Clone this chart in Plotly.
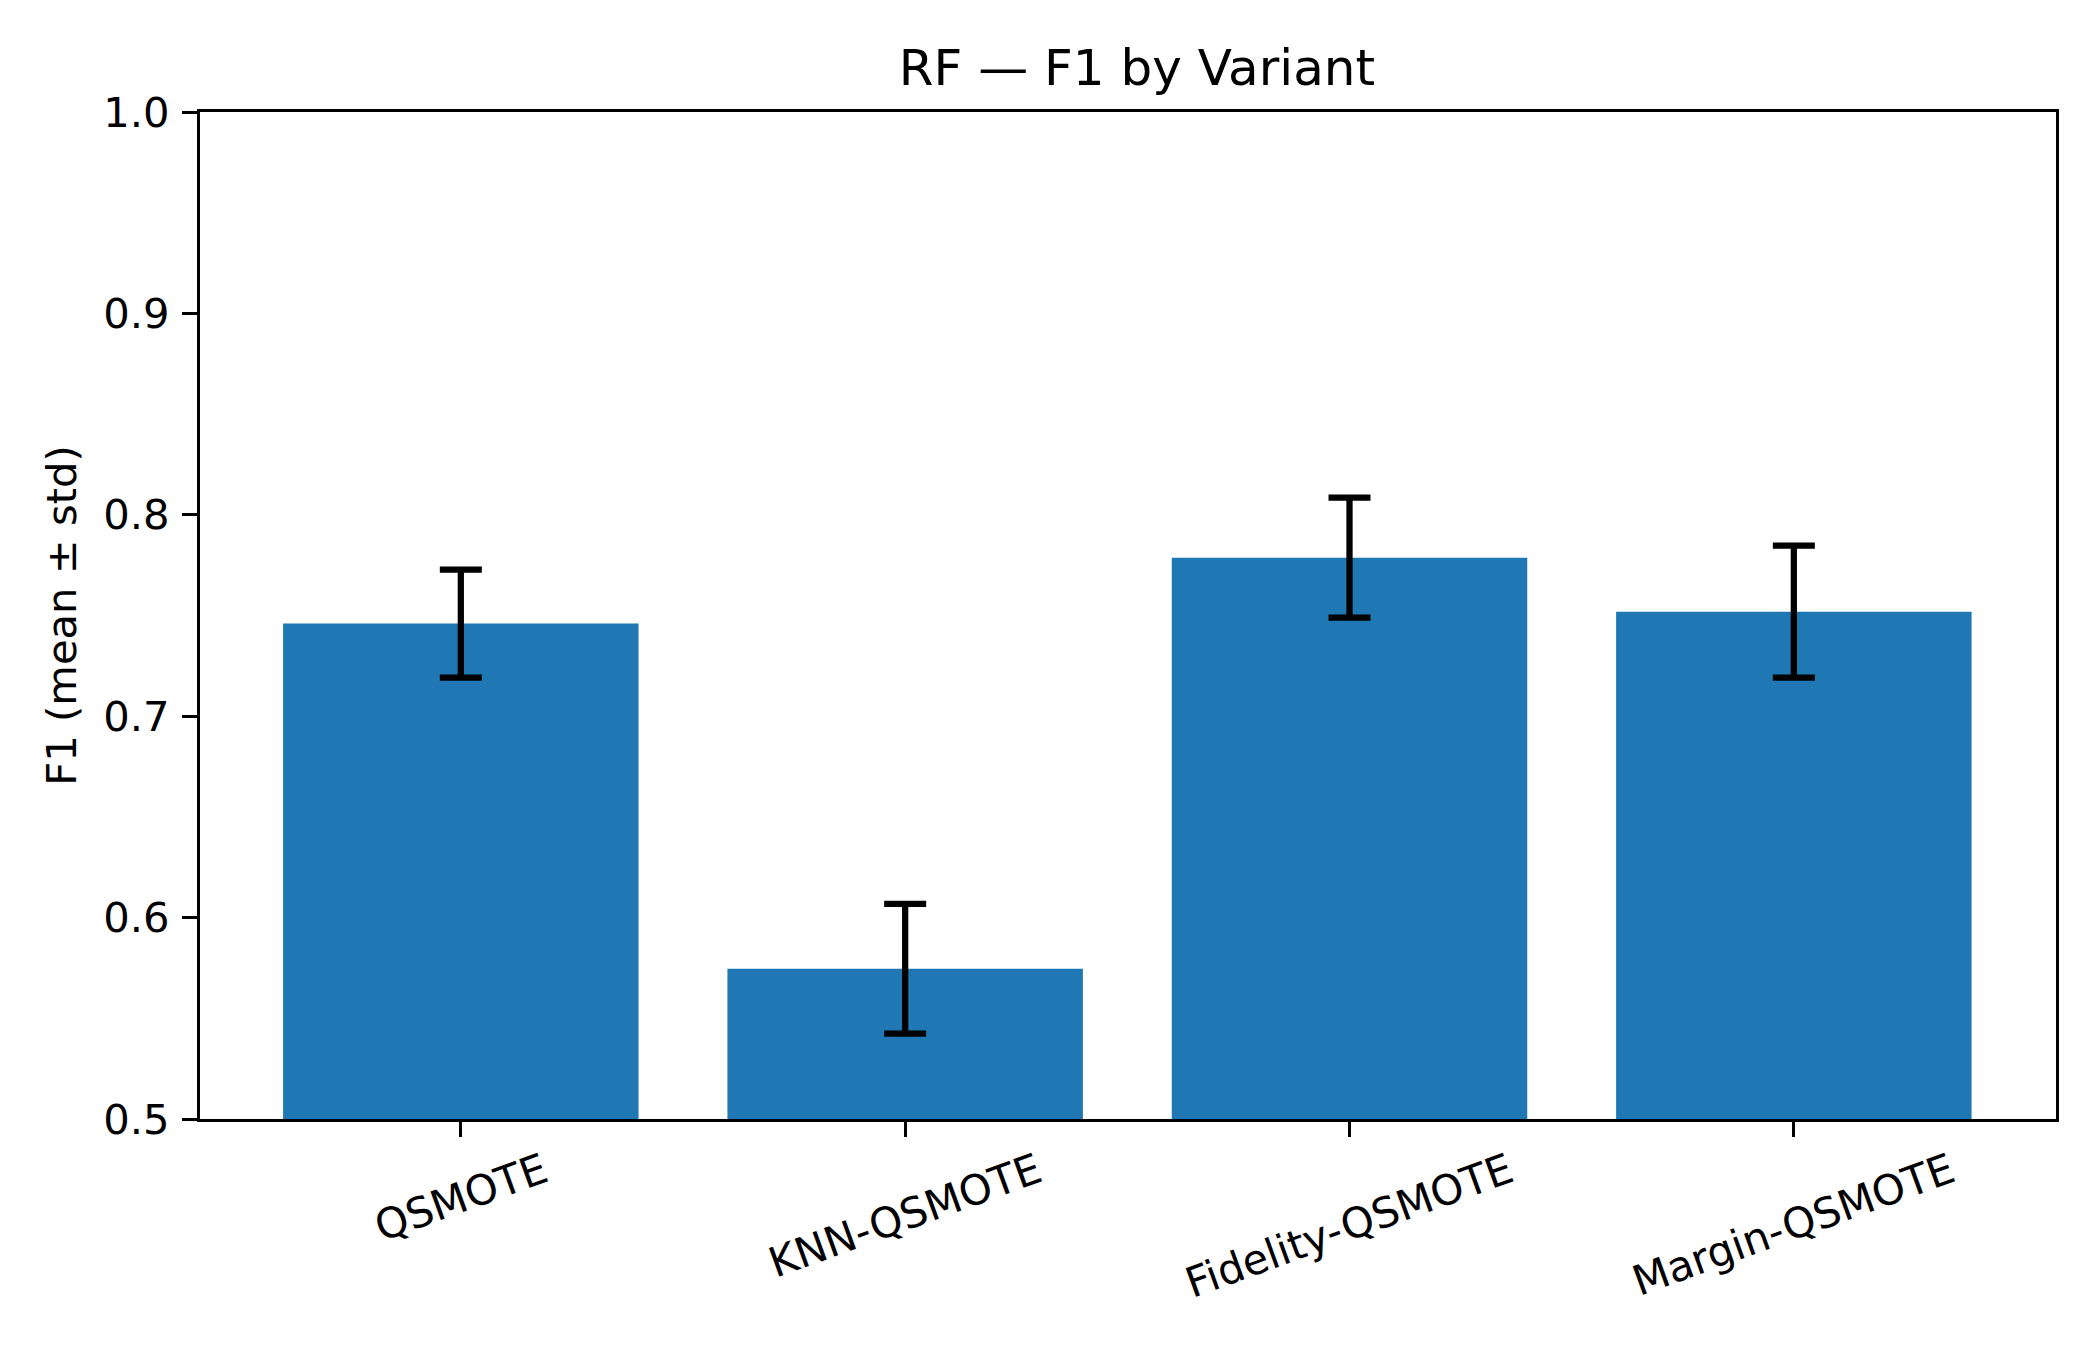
import plotly.graph_objects as go

variants = ["QSMOTE", "KNN-QSMOTE", "Fidelity-QSMOTE", "Margin-QSMOTE"]
f1_mean = [0.746, 0.5746, 0.7787, 0.7519]
f1_std = [0.0268, 0.0322, 0.0298, 0.0328]

y_ticks = [0.5, 0.6, 0.7, 0.8, 0.9, 1.0]

FONT = "DejaVu Sans"
TICK_PX = 41.7
TITLE_PX = 50

fig = go.Figure()
fig.add_trace(go.Bar(
    x=variants,
    y=f1_mean,
    width=0.8,
    marker=dict(color="#1f77b4", line=dict(width=0)),
    error_y=dict(type="data", array=f1_std, visible=True,
                 color="black", thickness=6.25, width=21),
    showlegend=False,
))

for v in variants:
    fig.add_annotation(
        x=v, xref="x", y=0, yref="paper",
        text=v, showarrow=False, textangle=-20,
        xanchor="center", yanchor="top", yshift=-22,
        font=dict(family=FONT, size=TICK_PX, color="black"),
    )

fig.update_layout(
    width=2100, height=1350,
    margin=dict(l=192, r=52, t=104, b=239, pad=0),
    paper_bgcolor="white", plot_bgcolor="white",
    font=dict(family=FONT, size=TICK_PX, color="black"),
    title=dict(text="RF — F1 by Variant", x=0.5376, xanchor="center",
               y=1, yref="paper", yanchor="bottom", pad=dict(b=27),
               font=dict(family=FONT, size=TITLE_PX, color="black")),
    bargap=0.2,
)
fig.update_xaxes(
    type="category", range=[-0.587, 3.59],
    showline=True, linewidth=3.3, linecolor="black", mirror=True,
    ticks="outside", ticklen=15, tickwidth=3.3, tickcolor="black",
    showticklabels=False, showgrid=False, zeroline=False,
)
fig.update_yaxes(
    range=[0.5, 1.0], tickvals=y_ticks,
    ticktext=[f"{t:.1f}" for t in y_ticks],
    showline=True, linewidth=3.3, linecolor="black", mirror=True,
    ticks="outside", ticklen=15, tickwidth=3.3, tickcolor="black",
    ticklabelstandoff=4,
    tickfont=dict(family=FONT, size=TICK_PX, color="black"),
    showgrid=False, zeroline=False,
    title=dict(text="F1 (mean ± std)", standoff=14,
               font=dict(family=FONT, size=TICK_PX, color="black")),
)

fig.write_html("out.html")
